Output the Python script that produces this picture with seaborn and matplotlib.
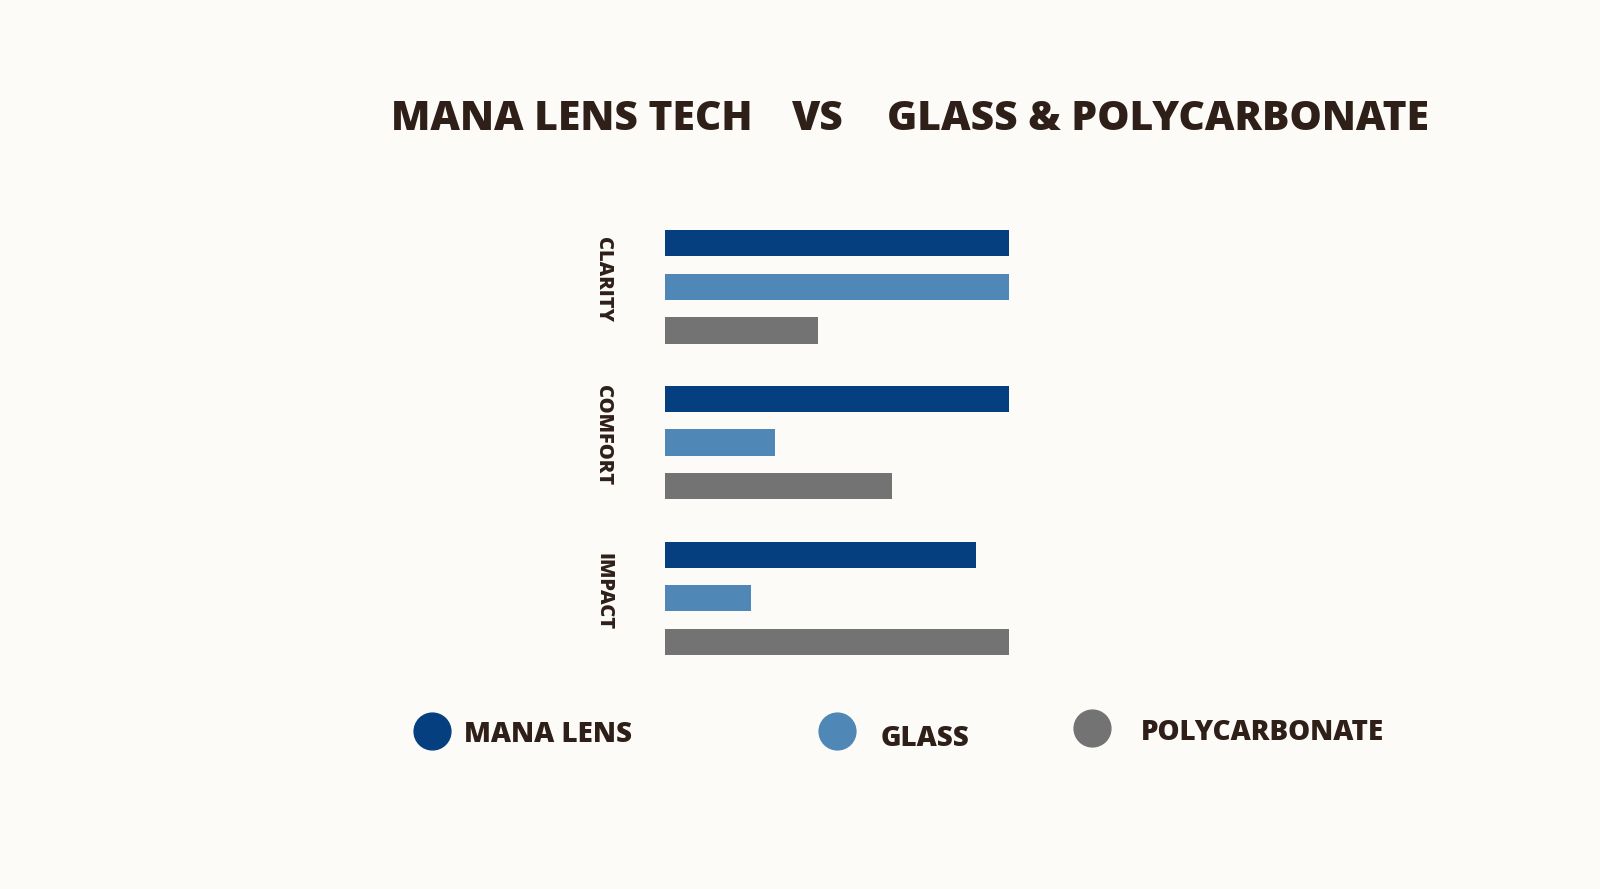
import pandas as pd
import seaborn as sns
import matplotlib
matplotlib.use('Agg')
import matplotlib.pyplot as plt
from matplotlib.lines import Line2D
from matplotlib.transforms import ScaledTranslation

# data (scale 0-10)
features = ['CLARITY', 'COMFORT', 'IMPACT']
materials = ['MANA LENS', 'GLASS', 'POLYCARBONATE']
mana_lens = [10, 10, 9.05]
glass = [10, 3.2, 2.5]
polycarbonate = [4.45, 6.6, 10]

colors = ['#063f80', '#4f87b6', '#737373']
bg = '#fdfbf8'
ink = '#2e2019'

df = pd.DataFrame({
    'feature': features * 3,
    'material': [m for m in materials for _ in features],
    'score': mana_lens + glass + polycarbonate,
})

sns.set_theme(style='white')
plt.rcParams['font.family'] = ['Open Sans', 'DejaVu Sans']

fig = plt.figure(figsize=(16, 8.89), dpi=100, facecolor=bg)
ax = fig.add_axes([664.7 / 1600, 1 - 676 / 889, 344.3 / 1600, 466.9 / 889])
ax.set_facecolor(bg)

sns.barplot(data=df, x='score', y='feature', hue='material', order=features,
            hue_order=materials, palette=colors, orient='h', width=0.84, gap=0.4,
            legend=False, ax=ax, saturation=1, edgecolor='none')

ax.set_xlim(0, 10)
ax.set_ylim(2.5, -0.5)
ax.set_xlabel('')
ax.set_ylabel('')
ax.set_xticks([])
sns.despine(ax=ax, left=True, bottom=True)
ax.tick_params(axis='y', length=0, pad=37)
nudge = ScaledTranslation(0, 0.07, fig.dpi_scale_trans)
for lab in ax.get_yticklabels():
    lab.set_rotation(-90)
    lab.set_fontsize(14.5)
    lab.set_fontweight('heavy')
    lab.set_color(ink)
    lab.set_va('center')
    lab.set_transform(lab.get_transform() + nudge)

# title in three pieces
title_y = 1 - 119 / 889
fig.text(391 / 1600, title_y, 'MANA LENS TECH', fontsize=29.3, fontweight='heavy',
         color=ink, ha='left', va='center')
fig.text(818 / 1600, title_y, 'VS', fontsize=29.3, fontweight='heavy',
         color=ink, ha='center', va='center')
fig.text(887 / 1600, title_y, 'GLASS & POLYCARBONATE', fontsize=29.3, fontweight='heavy',
         color=ink, ha='left', va='center')

# legend key
legend_pos = [(431.6, 730.6, 464, 735), (836.7, 730.6, 880.6, 738), (1091.8, 727.5, 1140.8, 733)]
for (cx, cy, tx, ty), name, c in zip(legend_pos, materials, colors):
    fig.add_artist(Line2D([cx / 1600], [1 - cy / 889], marker='o', markersize=26.5,
                          color=c, linestyle='none', transform=fig.transFigure))
    fig.text(tx / 1600, 1 - ty / 889, name, fontsize=20, fontweight='heavy',
             color=ink, ha='left', va='center')

fig.savefig('out.png', dpi=100, facecolor=bg)
